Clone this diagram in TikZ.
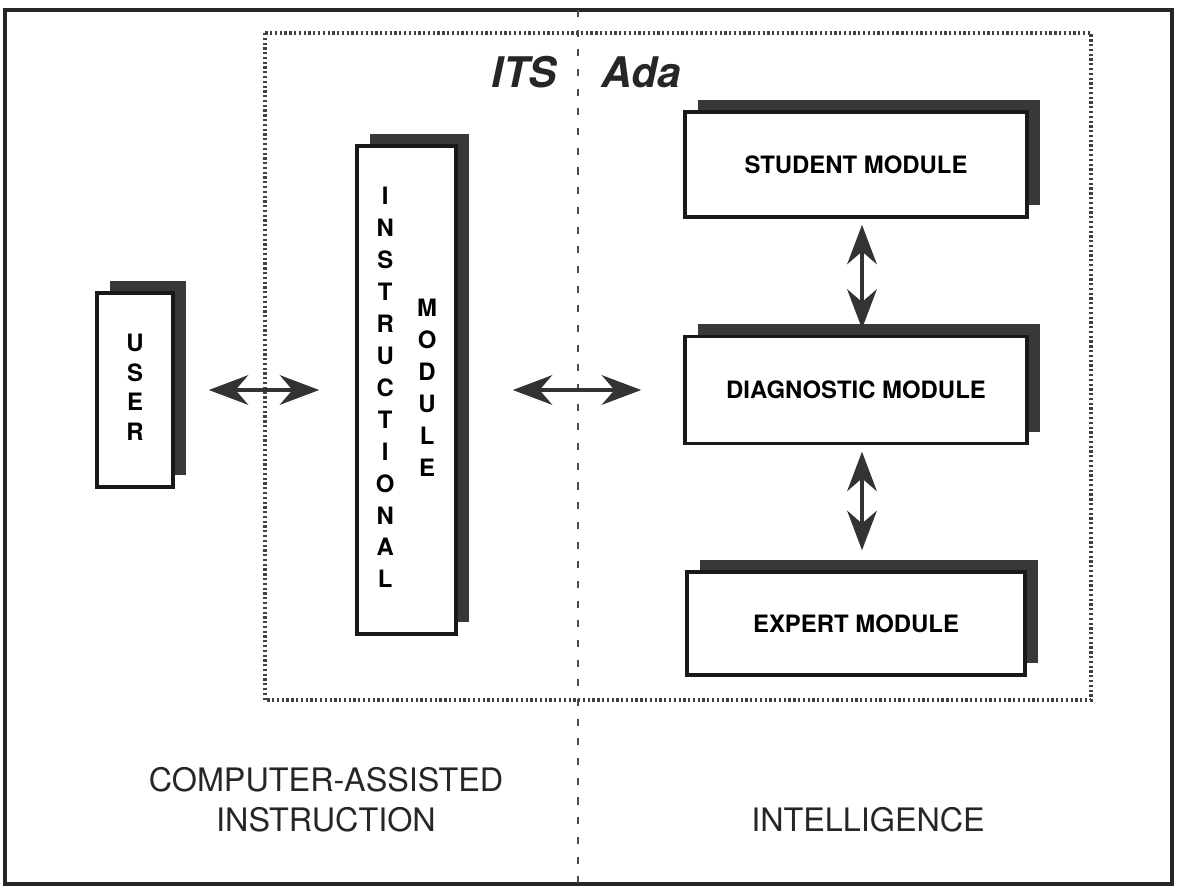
\documentclass[tikz,border=0pt]{standalone}
\usepackage{fontspec}
\setmainfont{TeX Gyre Heros}
\usetikzlibrary{arrows.meta,shadows}
\tikzset{
  module/.style={draw=black!90, line width=2.5pt, fill=white, inner sep=0pt,
    drop shadow={shadow xshift=0.32cm, shadow yshift=0.3cm, fill=black!78, opacity=1},
    font=\fontsize{17}{20}\selectfont\bfseries},
  bigarrow/.style={line width=3pt, draw=black!80, fill=black!80,
    {Stealth[length=28pt,width=21pt,inset=9pt]}-{Stealth[length=28pt,width=21pt,inset=9pt]}},
  hatchline/.style={line width=2.6pt, draw=black!75, dash pattern=on 1.6pt off 1.8pt},
  sepline/.style={line width=1pt, draw=black!70, dash pattern=on 5pt off 9pt},
  footlabel/.style={font=\fontsize{23}{28.4}\selectfont, align=center, text=black!85}
}

\begin{document}
\begin{tikzpicture}[x=0.025cm, y=-0.025cm]
			%%%%% START %%%%%
			\useasboundingbox (0,0) rectangle (1177,887);
			
			\draw[line width=2.2pt, draw=black!85] (5,10) rectangle (1172,884);
			\draw[hatchline] (265,33) rectangle (1091,700);
			\draw[sepline] (578,10) -- (578,884);
			
			\node[font=\fontsize{30}{36}\selectfont\bfseries\itshape, text=black!85, anchor=base east] (its) at (562,88) {ITS};
			\node[font=\fontsize{30}{36}\selectfont\bfseries\itshape, text=black!85, anchor=base west] (ada) at (597,88) {Ada};
			
			\node[module, minimum width=1.9cm, minimum height=4.85cm] (user) at (135,390)
				{\fontsize{17}{21}\selectfont\begin{tabular}{@{}c@{}}U\\S\\E\\R\end{tabular}};
			
			\node[module, minimum width=2.475cm, minimum height=12.2cm] (instr) at (406.5,390)
				{\fontsize{17}{22.7}\selectfont\begin{tabular}[c]{@{}c@{}}I\\N\\S\\T\\R\\U\\C\\T\\I\\O\\N\\A\\L\end{tabular}\hspace{16pt}\begin{tabular}[c]{@{}c@{}}M\\O\\D\\U\\L\\E\end{tabular}};
			
			\node[module, minimum width=8.55cm, minimum height=2.625cm] (student) at (856,164.5) {STUDENT MODULE};
			\node[module, minimum width=8.55cm, minimum height=2.675cm] (diag) at (856,390) {DIAGNOSTIC MODULE};
			\node[module, minimum width=8.45cm, minimum height=2.575cm] (expert) at (856,623.5) {EXPERT MODULE};
			
			\draw[bigarrow, shorten <=0.85cm, shorten >=0.9cm] (user) -- (instr);
			\draw[bigarrow, shorten <=1.375cm, shorten >=1.05cm] (instr) -- (diag);
			\draw[bigarrow, shorten <=0.15cm, shorten >=0.15cm] ([xshift=0.15cm]student.south) -- ([xshift=0.15cm]diag.north);
			\draw[bigarrow, shorten <=0.16cm, shorten >=0.5cm] ([xshift=0.15cm]diag.south) -- ([xshift=0.15cm]expert.north);
			
			\node[footlabel] (cai) at (326,800) {COMPUTER-ASSISTED\\INSTRUCTION};
			\node[footlabel] (intel) at (868,820) {INTELLIGENCE};
			
			%%%%% END %%%%%
\end{tikzpicture}
\end{document}
